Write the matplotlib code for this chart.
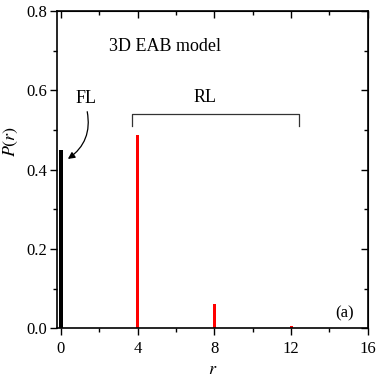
import matplotlib
matplotlib.use("Agg")
import matplotlib.pyplot as plt
from matplotlib.ticker import MultipleLocator, FormatStrFormatter, NullFormatter

r_fl = [0]
p_fl = [0.45]
r_rl = [4, 8, 12]
p_rl = [0.488, 0.062, 0.006]

plt.rcParams['font.family'] = ['Liberation Serif', 'DejaVu Serif']
plt.rcParams['mathtext.fontset'] = 'stix'

fig = plt.figure(figsize=(3.82, 3.82), dpi=100)
ax = fig.add_axes([0.149, 0.141, 0.814, 0.830])

ax.bar(r_fl, p_fl, width=0.2, color='black')
ax.bar(r_rl, p_rl, width=0.16, color='red')

ax.set_xlim(-0.2, 16)
ax.set_ylim(0, 0.8)
ax.xaxis.set_major_locator(MultipleLocator(4))
ax.xaxis.set_minor_locator(MultipleLocator(2))
ax.yaxis.set_major_locator(MultipleLocator(0.2))
ax.yaxis.set_minor_locator(MultipleLocator(0.1))
ax.yaxis.set_major_formatter(FormatStrFormatter('%.1f'))
ax.tick_params(which='both', direction='out', labelsize=12, pad=2)
ax.tick_params(axis='x', which='both', pad=4)
ax.tick_params(which='major', length=5, width=1)
ax.tick_params(which='minor', length=3, width=1)
for s in ax.spines.values():
    s.set_linewidth(1.2)

# inward ticks on top and right
top = ax.secondary_xaxis('top')
top.xaxis.set_major_locator(MultipleLocator(4))
top.xaxis.set_minor_locator(MultipleLocator(2))
top.xaxis.set_major_formatter(NullFormatter())
top.tick_params(which='both', direction='in', width=1)
top.tick_params(which='major', length=5)
top.tick_params(which='minor', length=3)
right = ax.secondary_yaxis('right')
right.yaxis.set_major_locator(MultipleLocator(0.2))
right.yaxis.set_minor_locator(MultipleLocator(0.1))
right.yaxis.set_major_formatter(NullFormatter())
right.tick_params(which='both', direction='in', width=1)
right.tick_params(which='major', length=5)
right.tick_params(which='minor', length=3)

ax.set_xlabel('$r$', fontsize=13, labelpad=3)
ax.set_ylabel('$P(r)$', fontsize=13)
ax.yaxis.set_label_coords(-0.12, 0.59)

ax.text(2.5, 0.71, '3D EAB model', fontsize=13, ha='left', va='center')
ax.text(1.3, 0.58, 'FL', fontsize=13, ha='center', va='center')
ax.annotate('', xy=(0.25, 0.423), xytext=(1.35, 0.553),
            arrowprops=dict(arrowstyle='-|>', color='black', lw=0.9,
                            connectionstyle='arc3,rad=-0.35', mutation_scale=10))
ax.text(7.5, 0.581, 'RL', fontsize=13, ha='center', va='center')
ax.plot([3.7, 3.7, 12.4, 12.4], [0.511, 0.541, 0.541, 0.511], color='#333333', lw=0.9)
ax.text(14.8, 0.038, '(a)', fontsize=12, ha='center', va='center')

fig.savefig('out.png', dpi=100)
